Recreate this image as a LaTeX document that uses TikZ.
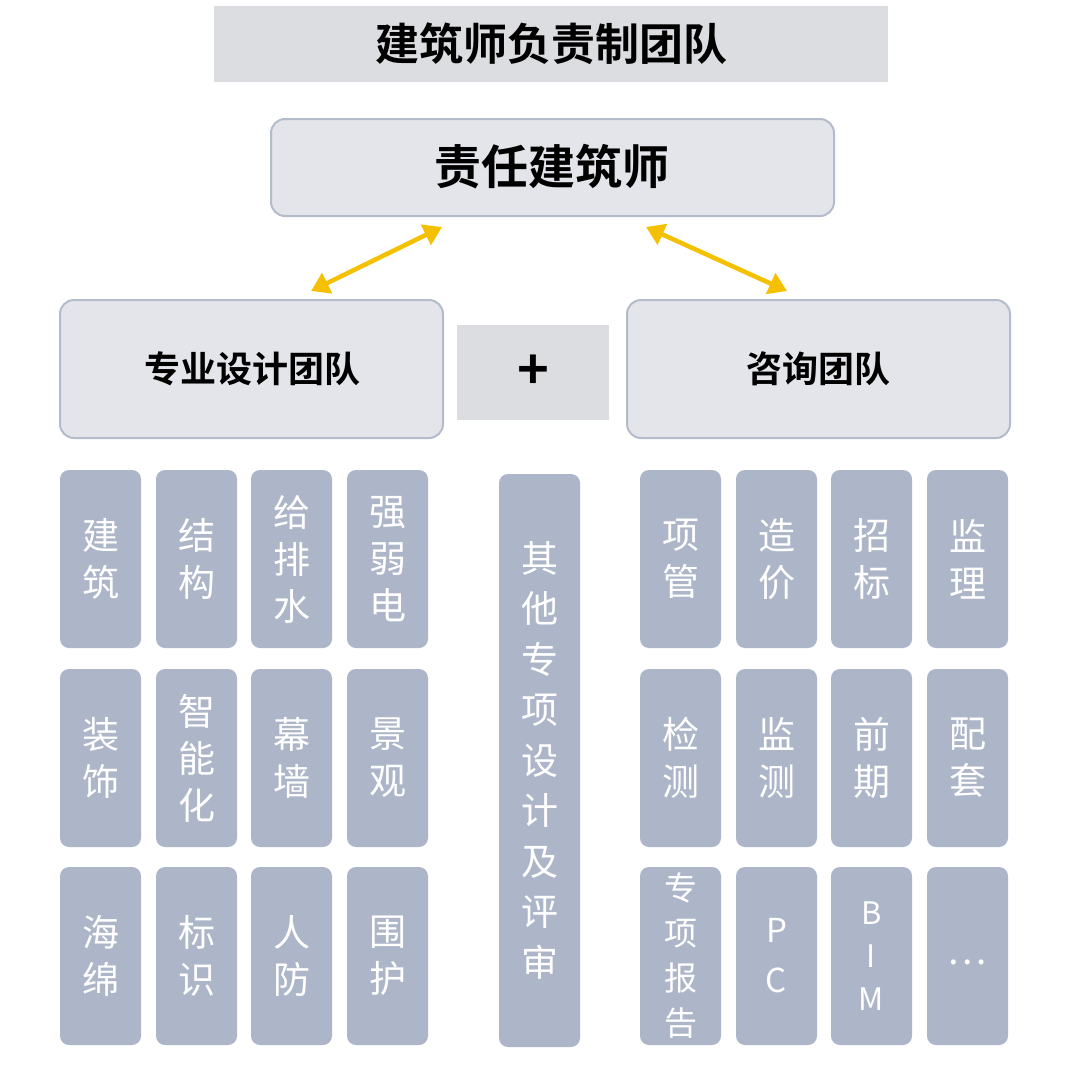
\documentclass[tikz,border=0pt]{standalone}
\usepackage{fontspec}
\setmainfont{Noto Sans CJK SC}
\newfontfamily\cjkb{Noto Sans CJK SC Bold}
\usetikzlibrary{arrows.meta}
\definecolor{tbg}{HTML}{DCDDE1}
\definecolor{hbg}{HTML}{E3E5EA}
\definecolor{hbd}{HTML}{B4BBCB}
\definecolor{cell}{HTML}{ADB6C8}
\definecolor{arr}{HTML}{F5C000}
\tikzset{x=1pt,y=-1pt,
 head/.style={draw=hbd,line width=2pt,fill=hbg,rounded corners=14pt},
 cellbox/.style={fill=cell,rounded corners=9pt},
 celltxt/.style={text=white,font=\fontsize{37}{47}\selectfont,align=center,inner sep=0pt},
 yarrow/.style={draw=arr,line width=4.5pt,{Triangle[length=18pt,width=22pt]}-{Triangle[length=18pt,width=22pt]}}}
\newcommand{\cellat}[6]{\fill[cellbox] (#1,#2) rectangle (#3,#4); \node[celltxt] (#5) at ({(#1+#3)/2},{(#2+#4)/2}) {#6};}
\begin{document}
\begin{tikzpicture}
\fill[white] (0,0) rectangle (1080,1080);
\useasboundingbox (0,0) rectangle (1080,1080);
\fill[tbg] (214,6) rectangle (888,82);
\node[font=\cjkb\fontsize{44}{44}\selectfont] (title) at (551,44) {建筑师负责制团队};
\draw[head] (271,119) rectangle (834,216);
\node[font=\cjkb\fontsize{47}{47}\selectfont] (chief) at (552,167) {责任建筑师};
\draw[head] (60,300) rectangle (443,438);
\node[font=\cjkb\fontsize{36}{36}\selectfont] (design) at (252,369) {专业设计团队};
\draw[head] (627,300) rectangle (1010,438);
\node[font=\cjkb\fontsize{36}{36}\selectfont] (consult) at (818,369) {咨询团队};
\fill[tbg] (457,325) rectangle (609,420);
\node[font=\cjkb\fontsize{54}{54}\selectfont] (plus) at (533,372) {+};
\coordinate (a1) at (442,227); \coordinate (a2) at (311,291);
\coordinate (b1) at (646,227); \coordinate (b2) at (787,291);
\draw[yarrow] (a1) -- (a2);
\draw[yarrow] (b1) -- (b2);
% left cells
\cellat{60}{470}{141}{648}{l11}{建\\筑}
\cellat{156}{470}{237}{648}{l12}{结\\构}
\cellat{251}{470}{332}{648}{l13}{给\\排\\水}
\cellat{347}{470}{428}{648}{l14}{强\\弱\\电}
\cellat{60}{669}{141}{847}{l21}{装\\饰}
\cellat{156}{669}{237}{847}{l22}{智\\能\\化}
\cellat{251}{669}{332}{847}{l23}{幕\\墙}
\cellat{347}{669}{428}{847}{l24}{景\\观}
\cellat{60}{867}{141}{1045}{l31}{海\\绵}
\cellat{156}{867}{237}{1045}{l32}{标\\识}
\cellat{251}{867}{332}{1045}{l33}{人\\防}
\cellat{347}{867}{428}{1045}{l34}{围\\护}
% middle
\fill[cellbox] (499,474) rectangle (580,1047);
\node[celltxt,font=\fontsize{37}{50.5}\selectfont] (mid) at (540,760) {其\\他\\专\\项\\设\\计\\及\\评\\审};
% right cells
\cellat{640}{470}{721}{648}{r11}{项\\管}
\cellat{736}{470}{817}{648}{r12}{造\\价}
\cellat{831}{470}{912}{648}{r13}{招\\标}
\cellat{927}{470}{1008}{648}{r14}{监\\理}
\cellat{640}{669}{721}{847}{r21}{检\\测}
\cellat{736}{669}{817}{847}{r22}{监\\测}
\cellat{831}{669}{912}{847}{r23}{前\\期}
\cellat{927}{669}{1008}{847}{r24}{配\\套}
\fill[cellbox] (640,867) rectangle (721,1045);
\node[celltxt,font=\fontsize{33}{45}\selectfont] (r31) at (680.5,956) {专\\项\\报\\告};
\fill[cellbox] (736,867) rectangle (817,1045);
\node[celltxt,font=\fontsize{33}{50}\selectfont] (r32) at (776.5,956) {P\\C};
\fill[cellbox] (831,867) rectangle (912,1045);
\node[celltxt,font=\fontsize{31}{43}\selectfont] (r33) at (871.5,956) {B\\I\\M};
\fill[cellbox] (927,867) rectangle (1008,1045);
\node[celltxt] (r34) at (967.5,962) {…};
\end{tikzpicture}
\end{document}
